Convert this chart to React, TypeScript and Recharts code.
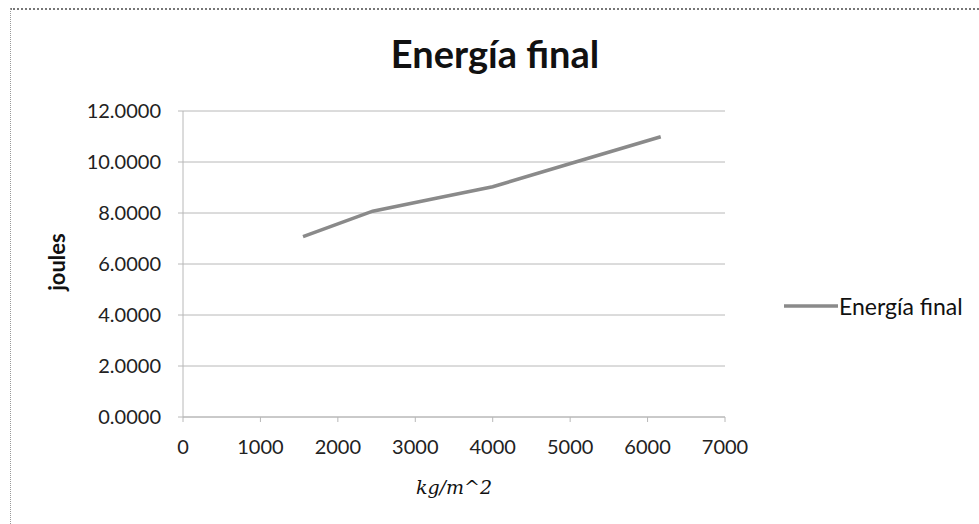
import React from 'react';
import { LineChart, Line, XAxis, YAxis, CartesianGrid, Legend } from 'recharts';

const massValues = [1550, 2450, 3300, 4000, 5070, 6170];
const energyValues = [7.07, 8.07, 8.6, 9.03, 10.0, 10.99];
const xTicks = [0, 1000, 2000, 3000, 4000, 5000, 6000, 7000];
const yTicks = [0, 2, 4, 6, 8, 10, 12];
const seriesName = 'Energía final';
const chartTitle = 'Energía final';
const xTitle = 'kg/m^2';
const yTitle = 'joules';

const data = massValues.map((m, i) => ({ m, e: energyValues[i] }));

const FONT = 'Lato, "Open Sans", sans-serif';
const GRID = '#b8b8b8';

const LegendContent = (props: any) => {
  const { payload } = props;
  return (
    <div style={{ display: 'flex', alignItems: 'center' }}>
      {(payload || []).map((p: any, i: number) => (
        <div key={i} style={{ display: 'flex', alignItems: 'center' }}>
          <svg width={54} height={10} style={{ display: 'block' }}>
            <line x1={0} y1={5} x2={54} y2={5} stroke="#8a8a8a" strokeWidth={3.5} />
          </svg>
          <span style={{ fontFamily: FONT, fontSize: 23, color: '#111', marginLeft: 1 }}>{p.value}</span>
        </div>
      ))}
    </div>
  );
};

export default function App() {
  return (
    <div style={{ position: 'absolute', left: 0, top: 0, width: 979, height: 524, overflow: 'hidden', background: '#fff' }}>
      <div style={{ position: 'absolute', left: 10, top: 8, width: 1100, height: 700, borderTop: '2px dotted #777', borderLeft: '1px dotted #999' }} />
      <div style={{ position: 'absolute', left: 0, top: 30, width: 990, textAlign: 'center', fontFamily: FONT, fontWeight: 700, fontSize: 38, color: '#111' }}>
        {chartTitle}
      </div>
      <div style={{ position: 'absolute', left: 0, top: 0 }}>
        <LineChart width={979} height={524} data={data} margin={{ top: 111, right: 60, left: 83, bottom: 67 }}>
          <CartesianGrid vertical={false} stroke={GRID} />
          <XAxis
            dataKey="m"
            type="number"
            domain={[0, 7000]}
            ticks={xTicks}
            height={40}
            stroke={GRID}
            tickSize={5}
            tickMargin={18}
            tick={{ fontFamily: FONT, fontSize: 20, fill: '#222' }}
            label={{
              content: (p: any) => {
                const vb = p.viewBox;
                return (
                  <text x={vb.x + vb.width / 2} y={vb.y + 70} textAnchor="middle" dominantBaseline="central"
                    style={{ fontFamily: '"DejaVu Serif", serif', fontStyle: 'italic', fontSize: 19, fill: '#111' }}>
                    {xTitle}
                  </text>
                );
              },
            }}
          />
          <YAxis
            type="number"
            domain={[0, 12]}
            ticks={yTicks}
            width={100}
            stroke={GRID}
            tickSize={5}
            tickMargin={17}
            tickFormatter={(v: number) => v.toFixed(4)}
            tick={{ fontFamily: FONT, fontSize: 20, fill: '#222' }}
            label={{
              content: (p: any) => {
                const vb = p.viewBox;
                const cx = vb.x - 27;
                const cy = vb.y + vb.height / 2 - 2;
                return (
                  <text x={cx} y={cy} textAnchor="middle" dominantBaseline="central" transform={`rotate(-90 ${cx} ${cy})`}
                    style={{ fontFamily: FONT, fontWeight: 700, fontSize: 22, fill: '#111' }}>
                    {yTitle}
                  </text>
                );
              },
            }}
          />
          <Legend
            layout="horizontal"
            verticalAlign="middle"
            align="right"
            content={<LegendContent />}
            wrapperStyle={{ position: 'absolute', left: 784, top: 292, width: 194, height: 30 }}
          />
          <Line
            type="linear"
            dataKey="e"
            name={seriesName}
            stroke="#8a8a8a"
            strokeWidth={3.5}
            dot={false}
            isAnimationActive={false}
          />
        </LineChart>
      </div>
    </div>
  );
}
